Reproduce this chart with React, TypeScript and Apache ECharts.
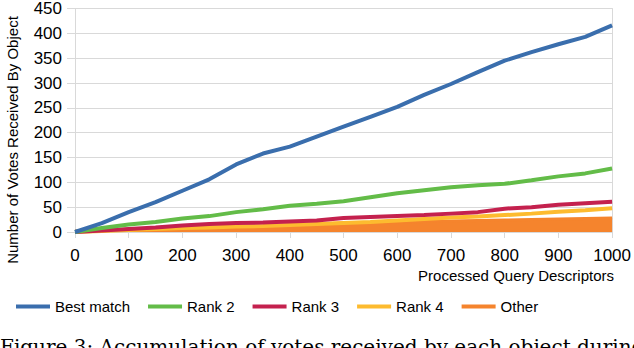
import React, { useEffect, useRef } from "react";
import * as echarts from "echarts";

const xSteps = [0, 50, 100, 150, 200, 250, 300, 350, 400, 450, 500, 550, 600, 650, 700, 750, 800, 850, 900, 950, 1000];
const bestMatch = [0, 18, 40, 60, 83, 106, 136, 158, 172, 192, 212, 232, 252, 276, 298, 322, 345, 362, 378, 393, 416];
const rank2 = [0, 8, 15, 20, 27, 32, 40, 46, 53, 57, 62, 70, 78, 84, 90, 94, 97, 104, 112, 118, 128];
const rank3 = [0, 3, 6, 9, 13, 16, 18, 19, 21, 23, 28, 30, 32, 34, 37, 40, 47, 50, 55, 58, 61];
const rank4 = [0, 2, 4, 6, 8, 9, 11, 12, 14, 16, 18, 20, 23, 26, 29, 31, 34, 37, 41, 44, 48];
const other = [2, 3, 5, 6, 8, 9, 11, 12, 14, 16, 18, 19, 20, 21, 22, 23, 24, 25, 26, 27, 28];
const seriesNames = ["Best match", "Rank 2", "Rank 3", "Rank 4", "Other"];
const colors = ["#3a6ead", "#63bc48", "#c4214e", "#fdbb2f", "#f5842d"];
const xTicks = { min: 0, max: 1000, interval: 100 };
const yTicks = { min: 0, max: 450, interval: 50 };
const yTitle = "Number of Votes Received By Object";
const xTitle = "Processed Query Descriptors";
const caption = "Figure 3: Accumulation of votes received by each object during the";

const pairs = (ys: number[]) => xSteps.map((x, i) => [x, ys[i]]);

export default function App() {
  const ref = useRef<HTMLDivElement>(null);
  useEffect(() => {
    if (!ref.current) return;
    const chart = echarts.init(ref.current, undefined, { renderer: "svg" });
    const font = "'Liberation Sans', Arial, sans-serif";
    const allData = [bestMatch, rank2, rank3, rank4, other];
    const series: any[] = allData.map((d, i) => ({
      name: seriesNames[i],
      type: "line",
      data: pairs(d),
      showSymbol: false,
      symbol: "none",
      lineStyle: { color: colors[i], width: i === 4 ? 3 : 4 },
      itemStyle: { color: colors[i] },
      areaStyle: i === 4 ? { color: colors[i], opacity: 1 } : undefined,
      z: 10 - i,
    }));
    chart.setOption({
      animation: false,
      grid: { left: 75, right: 20, top: 8, bottom: 116, containLabel: false },
      legend: {
        left: 11,
        top: 294,
        icon: "rect",
        itemWidth: 34,
        itemHeight: 4,
        itemGap: 18,
        textStyle: { fontFamily: font, fontSize: 15, color: "#000" },
        data: seriesNames,
      },
      xAxis: {
        type: "value",
        ...xTicks,
        axisLine: { show: true, lineStyle: { color: "#d9d9d9" } },
        axisTick: { show: true, length: 6, lineStyle: { color: "#d9d9d9" } },
        axisLabel: {
          color: "#000",
          fontFamily: font,
          fontSize: 17,
          margin: 15,
          formatter: (v: number) => String(v),
        },
        splitLine: { show: false },
      },
      yAxis: [
        {
          type: "value",
          ...yTicks,
          axisLine: { show: true, lineStyle: { color: "#d9d9d9" } },
          axisTick: { show: true, length: 8, lineStyle: { color: "#d9d9d9" } },
          axisLabel: { color: "#000", fontFamily: font, fontSize: 17, margin: 13 },
          splitLine: { show: true, lineStyle: { color: "#d9d9d9" } },
        },
        {
          type: "value",
          position: "right",
          ...yTicks,
          axisLine: { show: true, lineStyle: { color: "#d9d9d9" } },
          axisTick: { show: false },
          axisLabel: { show: false },
          splitLine: { show: false },
        },
      ],
      series,
      graphic: [
        {
          type: "text",
          x: 12,
          y: 140,
          rotation: Math.PI / 2,
          style: {
            text: yTitle,
            fontFamily: font,
            fontSize: 15,
            fill: "#000",
            textAlign: "center",
            textVerticalAlign: "middle",
          },
        },
        {
          type: "text",
          x: 614,
          y: 275,
          style: {
            text: xTitle,
            fontFamily: font,
            fontSize: 15,
            fill: "#000",
            textAlign: "right",
            textVerticalAlign: "middle",
          },
        },
        {
          type: "text",
          x: 0,
          y: 337,
          style: {
            text: caption,
            fontFamily: "'DejaVu Serif', serif",
            fontSize: 20,
            fill: "#000",
            textAlign: "left",
            textVerticalAlign: "top",
          },
        },
      ],
    });
    return () => chart.dispose();
  }, []);
  return <div ref={ref} style={{ width: 634, height: 348, position: "absolute", left: 0, top: 0 }} />;
}
